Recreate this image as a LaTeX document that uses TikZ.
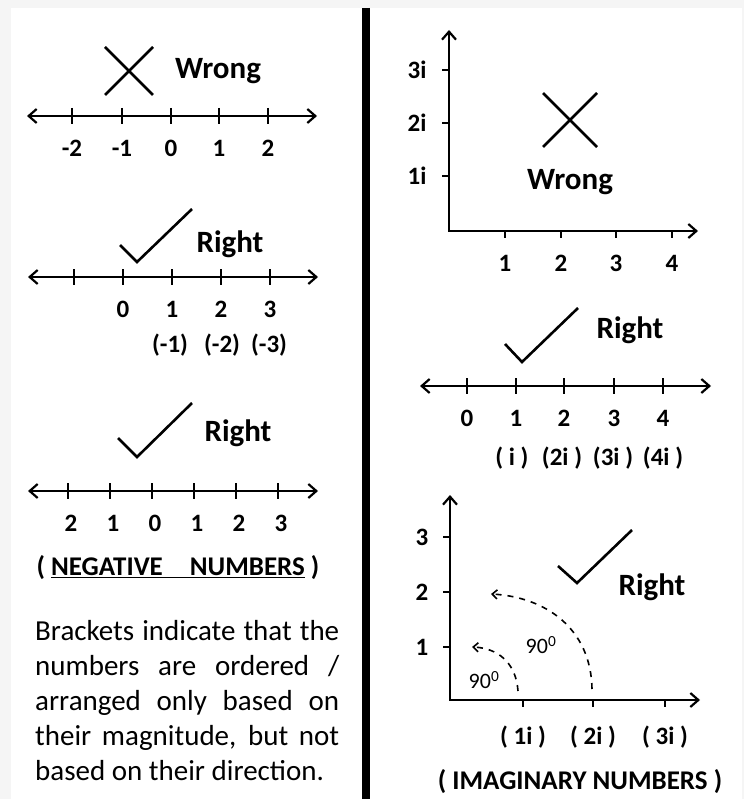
\documentclass[tikz,border=0pt]{standalone}
\usepackage{fontspec}
\setmainfont{Carlito}
\usepackage{tikz}
\usetikzlibrary{positioning}
\usetikzlibrary{arrows.meta}

\tikzset{
  axis/.style={line width=2.2pt},
  tickmark/.style={line width=1.6pt},
  signline/.style={line width=2.6pt},
  numlabel/.style={font=\bfseries\fontsize{25}{29}\selectfont,inner sep=0pt},
  verdict/.style={font=\bfseries\fontsize{31}{35}\selectfont,inner sep=0pt},
  heading/.style={font=\bfseries\fontsize{27}{31}\selectfont,inner sep=0pt},
  turn/.style={dashed,dash pattern=on 6pt off 6pt,line width=1.6pt,
    -{Straight Barb[length=5pt,width=9pt]}},
}

\begin{document}
\begin{tikzpicture}[x=1pt,y=-1pt,>={Straight Barb[length=8pt,width=14pt]}]
  % page and divider
  \fill[black!4] (0,0) rectangle (744,799);
  \fill[white] (11,8) rectangle (742,799);
  \useasboundingbox (0,0) rectangle (744,799);
  \coordinate (divtop) at (366,8);
  \coordinate (divbot) at (366,799);
  \draw[line width=7.5pt] (divtop) -- (divbot);

  % Left 1: wrong number line
  \draw[signline] (105,47) -- (153,95) (105,95) -- (153,47);
  \node[verdict] (wrongA) at (218,71) {Wrong};
  \coordinate (lineAl) at (27,116);
  \coordinate (lineAr) at (317,116);
  \draw[axis,<->] (lineAl) -- (lineAr);
  \foreach \x/\t [count=\i] in {72/-2,122/-1,171/0,219/1,268/2}{
    \draw[tickmark] (\x,108) -- (\x,124);
    \node[numlabel] (numA\i) at (\x,148) {\t};
  }

  % Left 2: magnitudes of the negatives
  \draw[signline] (120,245) -- (137,262) -- (192,209);
  \node[verdict] (rightA) at (230,244) {Right};
  \coordinate (lineBl) at (28,277);
  \coordinate (lineBr) at (318,277);
  \draw[axis,<->] (lineBl) -- (lineBr);
  \foreach \x in {74,123,172,221,270}
    \draw[tickmark] (\x,269) -- (\x,285);
  \foreach \x/\t [count=\i] in {123/0,172/1,221/2,270/3}
    \node[numlabel] (numB\i) at (\x,309) {\t};
  \node[numlabel] (negB1) at (170,345) {(-1)};
  \node[numlabel] (negB2) at (222,345) {(-2)};
  \node[numlabel] (negB3) at (269,345) {(-3)};

  % Left 3: both sides
  \draw[signline] (118,438) -- (137,457) -- (192,403);
  \node[verdict] (rightB) at (238,433) {Right};
  \coordinate (lineCl) at (28,491);
  \coordinate (lineCr) at (318,491);
  \draw[axis,<->] (lineCl) -- (lineCr);
  \foreach \x/\t [count=\i] in {68/2,110/1,152/0,194/1,236/2,278/3}{
    \draw[tickmark] (\x,483) -- (\x,499);
    \node[numlabel] (numC\i) at (\x+3,523) {\t};
  }
  \node[heading] (negtitle) at (178,568)
    {( \underline{NEGATIVE\quad NUMBERS} )};
  \node[anchor=north west,inner sep=0pt,text width=304pt,align=justify,
    font=\fontsize{29}{35}\selectfont] (note) at (35,620)
    {\hyphenpenalty=10000 Brackets indicate that the\linebreak
     numbers are ordered /\linebreak
     arranged only based on\linebreak
     their magnitude, but not\linebreak
     based on their direction.};

  % Right 1: wrong plane
  \coordinate (planeAo) at (449,231);
  \coordinate (planeAy) at (449,30);
  \coordinate (planeAx) at (698,231);
  \draw[axis,<->] (planeAy) -- (planeAo) -- (planeAx);
  \foreach \y/\t [count=\i] in {70/3i,123/2i,176/1i}{
    \draw[tickmark] (442,\y) -- (449,\y);
    \node[numlabel] (imA\i) at (417,\y) {\t};
  }
  \foreach \x/\t [count=\i] in {505/1,561/2,616/3,672/4}{
    \draw[tickmark] (\x,231) -- (\x,238);
    \node[numlabel] (reA\i) at (\x,263) {\t};
  }
  \draw[signline] (543,93) -- (597,147) (543,147) -- (597,93);
  \node[verdict] (wrongB) at (570,182) {Wrong};

  % Right 2: imaginary magnitudes
  \draw[signline] (505,344) -- (522,362) -- (578,308);
  \node[verdict] (rightC) at (630,330) {Right};
  \coordinate (lineDl) at (420,386);
  \coordinate (lineDr) at (711,386);
  \draw[axis,<->] (lineDl) -- (lineDr);
  \foreach \x/\t [count=\i] in {467/0,516/1,564/2,614/3,663/4}{
    \draw[tickmark] (\x,378) -- (\x,394);
    \node[numlabel] (numD\i) at (\x,418) {\t};
  }
  \node[numlabel] (imD1) at (512,458) {( i )};
  \node[numlabel] (imD2) at (562,458) {(2i )};
  \node[numlabel] (imD3) at (613,458) {(3i )};
  \node[numlabel] (imD4) at (663,458) {(4i )};

  % Right 3: rotation by 90 degrees
  \coordinate (planeBo) at (450,700);
  \coordinate (planeBy) at (450,495);
  \coordinate (planeBx) at (700,700);
  \draw[axis,<->] (planeBy) -- (planeBo) -- (planeBx);
  \foreach \y/\t [count=\i] in {537/3,592/2,647/1}{
    \draw[tickmark] (443,\y) -- (450,\y);
    \node[numlabel] (reB\i) at (422,\y) {\t};
  }
  \foreach \x/\t [count=\i] in {523/( 1i ),593/( 2i ),665/( 3i )}{
    \draw[tickmark] (\x,700) -- (\x,707);
    \node[numlabel] (imB\i) at (\x,737) {\t};
  }
  \coordinate (oneS) at (518,691);
  \coordinate (oneE) at (472,647);
  \coordinate (twoS) at (592,689);
  \coordinate (twoE) at (491,594);
  \draw[turn] (oneS) .. controls (516,662) and (497,648) .. (oneE);
  \draw[turn] (twoS) .. controls (591,628) and (545,597) .. (twoE);
  \node[font=\fontsize{22}{26}\selectfont,inner sep=0pt] (angA) at (484,680) {90\textsuperscript{0}};
  \node[font=\fontsize{22}{26}\selectfont,inner sep=0pt] (angB) at (541,645) {90\textsuperscript{0}};
  \draw[signline] (558,566) -- (577,583) -- (632,530);
  \node[verdict] (rightD) at (652,587) {Right};
  \node[heading] (imtitle) at (580,782) {( IMAGINARY NUMBERS )};
\end{tikzpicture}
\end{document}
